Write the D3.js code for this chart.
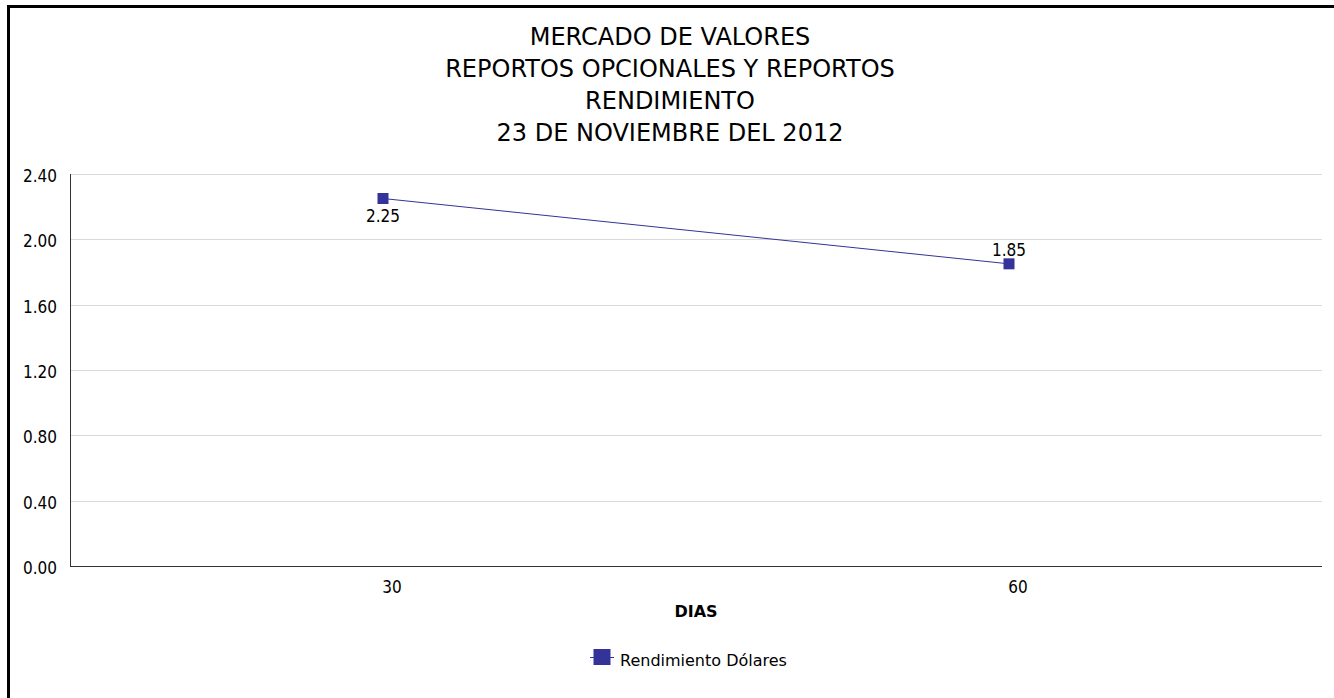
<!DOCTYPE html>
<html>
<head>
<meta charset="utf-8">
<script src="https://cdn.jsdelivr.net/npm/d3@7"></script>
<style>
  body { margin: 0; background: #fff; }
  svg { display: block; font-family: Tahoma, 'DejaVu Sans', Verdana, sans-serif; }
  .num { font-family: 'DejaVu Sans Condensed', 'DejaVu Sans', sans-serif; font-size: 17px; }
</style>
</head>
<body>
<svg id="chart"></svg>
<script>
// chart data
var titleLines = ['MERCADO DE VALORES', 'REPORTOS OPCIONALES Y REPORTOS', 'RENDIMIENTO', '23 DE NOVIEMBRE DEL 2012'];
var dias = ['30', '60'];
var rendimiento = [2.25, 1.85];
var yTicks = [0, 0.4, 0.8, 1.2, 1.6, 2.0, 2.4];
var seriesName = 'Rendimiento Dólares';
var xTitle = 'DIAS';

var W = 1334, H = 698;
var M = {left: 70, right: 12, top: 174, bottom: 132};
var BLUE = '#333399';

var svg = d3.select('#chart').attr('width', W).attr('height', H);

// frame (left and top edges only)
svg.append('path')
	.attr('d', 'M8.5,' + H + 'V6.5H' + W)
	.style('fill', 'none')
	.style('stroke', '#000')
	.style('stroke-width', 3);

// title
svg.append('g').selectAll('text')
	.data(titleLines)
	.enter()
	.append('text')
		.attr('x', 670)
		.attr('y', function(d, i) { return 45 + i * 32; })
		.attr('text-anchor', 'middle')
		.style('font-size', '24px')
		.text(function(d) { return d; });

var x = d3.scaleBand().domain(dias).range([M.left, W - M.right]);
var y = d3.scaleLinear().domain([0, 2.4]).range([H - M.bottom, M.top]);

// gridlines
svg.append('g').selectAll('line')
	.data(yTicks.slice(1))
	.enter()
	.append('line')
		.attr('x1', M.left).attr('x2', W - M.right)
		.attr('y1', function(d) { return Math.round(y(d)) + 0.5; })
		.attr('y2', function(d) { return Math.round(y(d)) + 0.5; })
		.style('stroke', '#dadada');

// axes lines
svg.append('line')
	.attr('x1', M.left + 0.5).attr('x2', M.left + 0.5)
	.attr('y1', M.top).attr('y2', Math.round(y(0)) + 0.5)
	.style('stroke', '#333');
svg.append('line')
	.attr('x1', M.left).attr('x2', W - M.right)
	.attr('y1', Math.round(y(0)) + 0.5).attr('y2', Math.round(y(0)) + 0.5)
	.style('stroke', '#333');

// y tick labels
svg.append('g').selectAll('text')
	.data(yTicks)
	.enter()
	.append('text')
		.attr('class', 'num')
		.attr('x', 57)
		.attr('y', function(d) { return y(d) + 8; })
		.attr('text-anchor', 'end')
		.text(function(d) { return d3.format('.2f')(d); });

// x tick labels
svg.append('g').selectAll('text')
	.data(dias)
	.enter()
	.append('text')
		.attr('class', 'num')
		.attr('x', function(d) { return x(d) + x.bandwidth() / 2 + 9; })
		.attr('y', 593)
		.attr('text-anchor', 'middle')
		.text(function(d) { return d; });

svg.append('text')
	.attr('x', (M.left + W - M.right) / 2)
	.attr('y', 617)
	.attr('text-anchor', 'middle')
	.style('font-size', '16px')
	.style('font-weight', 'bold')
	.text(xTitle);

// series line
var pts = dias.map(function(d, i) { return [x(d) + x.bandwidth() / 2, y(rendimiento[i])]; });
svg.append('path')
	.attr('d', d3.line()(pts))
	.style('fill', 'none')
	.style('stroke', BLUE)
	.style('stroke-width', 1);

svg.append('g').selectAll('rect')
	.data(pts)
	.enter()
	.append('rect')
		.attr('x', function(d) { return d[0] - 5.5; })
		.attr('y', function(d) { return d[1] - 5.5; })
		.attr('width', 11).attr('height', 11)
		.style('fill', BLUE);

// point labels: first below, second above
svg.append('g').selectAll('text')
	.data(pts)
	.enter()
	.append('text')
		.attr('class', 'num')
		.attr('x', function(d) { return d[0]; })
		.attr('y', function(d, i) { return i == 0 ? d[1] + 23.5 : d[1] - 7.5; })
		.attr('text-anchor', 'middle')
		.text(function(d, i) { return d3.format('.2f')(rendimiento[i]); });

// legend
var lg = svg.append('g').attr('transform', 'translate(602,657)');
lg.append('line')
	.attr('x1', -12).attr('x2', 12).attr('y1', 0.5).attr('y2', 0.5)
	.style('stroke', BLUE);
lg.append('rect')
	.attr('x', -8.5).attr('y', -8).attr('width', 17).attr('height', 16)
	.style('fill', BLUE);
lg.append('text')
	.attr('x', 18).attr('y', 666)
	.attr('y', 9)
	.style('font-size', '16px')
	.text(seriesName);
</script>
</body>
</html>
